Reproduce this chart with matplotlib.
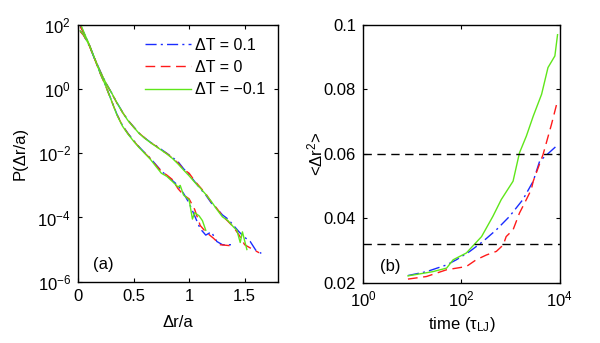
import numpy as np
import matplotlib
matplotlib.use('Agg')
from matplotlib import pyplot as plt
from matplotlib.ticker import NullLocator

plt.rcParams['font.family'] = ['Liberation Sans', 'DejaVu Sans']
plt.rcParams['mathtext.default'] = 'regular'
plt.rcParams['font.size'] = 12

# ---- panel (a): P(dr/a), log10 values, two branches per dT ----
xu_g = [0.02, 0.05, 0.10, 0.15, 0.20, 0.25, 0.30, 0.35, 0.40, 0.45, 0.50, 0.55, 0.60, 0.65, 0.70,
        0.75, 0.80, 0.85, 0.90, 0.95, 1.00, 1.05, 1.10, 1.15, 1.20, 1.25, 1.30, 1.35, 1.40, 1.43,
        1.46, 1.48, 1.52]
lu_g = [2.05, 1.80, 1.40, 0.95, 0.55, 0.20, -0.10, -0.42, -0.72, -0.98, -1.18, -1.38, -1.53, -1.66,
        -1.78, -1.90, -2.02, -2.16, -2.33, -2.52, -2.70, -2.90, -3.08, -3.28, -3.50, -3.75, -3.98,
        -4.10, -4.30, -4.40, -4.78, -4.45, -5.00]
xu_b = [0.02, 0.05, 0.10, 0.15, 0.20, 0.25, 0.30, 0.35, 0.40, 0.45, 0.50, 0.55, 0.60, 0.65, 0.70,
        0.75, 0.80, 0.85, 0.90, 0.95, 1.00, 1.05, 1.10, 1.15, 1.20, 1.25, 1.30, 1.35, 1.40, 1.45,
        1.50, 1.55, 1.60, 1.65]
lu_b = [2.00, 1.78, 1.40, 0.96, 0.56, 0.20, -0.10, -0.42, -0.71, -0.97, -1.17, -1.37, -1.52, -1.65,
        -1.76, -1.88, -2.00, -2.13, -2.26, -2.48, -2.66, -2.88, -3.10, -3.30, -3.55, -3.72, -3.92,
        -4.05, -4.25, -4.45, -4.62, -4.75, -5.02, -5.12]
xu_r = [0.02, 0.05, 0.10, 0.15, 0.20, 0.25, 0.30, 0.35, 0.40, 0.45, 0.50, 0.55, 0.60, 0.65, 0.70,
        0.75, 0.80, 0.85, 0.90, 0.95, 1.00, 1.05, 1.10, 1.15, 1.20, 1.25, 1.30, 1.35, 1.40, 1.45,
        1.50, 1.55, 1.63]
lu_r = [1.95, 1.76, 1.39, 0.95, 0.55, 0.19, -0.11, -0.43, -0.72, -0.97, -1.18, -1.37, -1.52, -1.66,
        -1.77, -1.90, -2.01, -2.15, -2.30, -2.50, -2.62, -2.86, -3.06, -3.26, -3.52, -3.72, -3.95,
        -4.12, -4.30, -4.55, -4.85, -4.95, -5.10]

xl_g = [0.02, 0.05, 0.10, 0.15, 0.20, 0.25, 0.30, 0.35, 0.40, 0.45, 0.50, 0.55, 0.60, 0.65, 0.70,
        0.75, 0.80, 0.85, 0.90, 0.92, 0.95, 1.00, 1.03, 1.05, 1.09, 1.12, 1.15]
ll_g = [1.82, 1.70, 1.38, 0.95, 0.50, 0.10, -0.35, -0.80, -1.15, -1.40, -1.62, -1.82, -2.00, -2.18,
        -2.40, -2.62, -2.72, -2.88, -3.05, -3.00, -3.30, -3.45, -4.05, -3.85, -3.95, -4.10, -4.40]
xl_b = [0.02, 0.05, 0.10, 0.15, 0.20, 0.25, 0.30, 0.35, 0.40, 0.45, 0.50, 0.55, 0.60, 0.65, 0.70,
        0.75, 0.80, 0.85, 0.90, 0.95, 1.00, 1.05, 1.10, 1.15, 1.20, 1.25, 1.30, 1.38]
ll_b = [1.82, 1.69, 1.37, 0.94, 0.50, 0.10, -0.34, -0.78, -1.13, -1.38, -1.60, -1.80, -1.98, -2.15,
        -2.35, -2.55, -2.70, -2.85, -3.00, -3.25, -3.55, -3.95, -4.35, -4.55, -4.45, -4.75, -4.85,
        -4.85]
xl_r = [0.02, 0.05, 0.10, 0.15, 0.20, 0.25, 0.30, 0.35, 0.40, 0.45, 0.50, 0.55, 0.60, 0.65, 0.70,
        0.75, 0.80, 0.85, 0.90, 0.95, 1.00, 1.05, 1.10, 1.15, 1.22, 1.28, 1.37]
ll_r = [1.80, 1.68, 1.37, 0.94, 0.49, 0.09, -0.35, -0.79, -1.14, -1.39, -1.61, -1.81, -1.99, -2.16,
        -2.37, -2.56, -2.68, -2.82, -3.10, -3.30, -3.42, -3.75, -4.25, -4.45, -4.65, -4.85, -4.88]

# ---- panel (b): <dr^2> vs time ----
t_g = [8.2, 26, 50, 68, 126, 257, 437, 646, 1122, 1514, 2089, 2884, 4266, 5754, 7943, 9000]
m_g = [0.0221, 0.0234, 0.0245, 0.0271, 0.0292, 0.0343, 0.0406, 0.0458, 0.0515, 0.0603, 0.0655,
       0.0717, 0.0785, 0.0868, 0.0904, 0.0970]
t_b = [8.2, 19.5, 50, 79, 148, 275, 513, 955, 1778, 2884, 3890, 8511, 9000]
m_b = [0.0222, 0.0234, 0.0255, 0.0271, 0.0297, 0.0328, 0.0364, 0.0406, 0.0458, 0.0515, 0.0577,
       0.0624, 0.0628]
t_r = [8.2, 19.5, 50, 126, 200, 324, 513, 708, 813, 1122, 1514, 2089, 2630, 2884, 4571, 6761, 9000]
m_r = [0.0211, 0.0219, 0.0240, 0.0250, 0.0271, 0.0286, 0.0297, 0.0317, 0.0343, 0.0364, 0.0416,
       0.0458, 0.0489, 0.0515, 0.0598, 0.0691, 0.0765]
h_lines = [0.06, 0.032]

c_b = '#1a2cff'
c_r = '#ff1a1a'
c_g = '#5fe61a'
dash_b = (0, (8, 3, 1.5, 3))
dash_r = (0, (7, 4))

fig = plt.figure(figsize=(6, 3.43), dpi=100)
ax1 = fig.add_axes([0.13, 0.179, 0.3333, 0.748])
ax2 = fig.add_axes([0.605, 0.176, 0.328, 0.751])

P = lambda v: np.power(10.0, np.array(v))
ax1.plot(xu_b, P(lu_b), color=c_b, linestyle=dash_b, lw=1, label='ΔT = 0.1')
ax1.plot(xu_r, P(lu_r), color=c_r, linestyle=dash_r, lw=1, label='ΔT = 0')
ax1.plot(xu_g, P(lu_g), color=c_g, lw=1, label='ΔT = −0.1')
ax1.plot(xl_b, P(ll_b), color=c_b, linestyle=dash_b, lw=1)
ax1.plot(xl_r, P(ll_r), color=c_r, linestyle=dash_r, lw=1)
ax1.plot(xl_g, P(ll_g), color=c_g, lw=1)
ax1.set_yscale('log')
ax1.set_xlim(0, 1.8)
ax1.set_ylim(1e-6, 1e2)
ax1.set_xticks([0, 0.5, 1, 1.5])
ax1.set_xticklabels(['0', '0.5', '1', '1.5'])
ax1.set_yticks([1e-6, 1e-4, 1e-2, 1, 1e2])
ax1.yaxis.set_minor_locator(NullLocator())
ax1.set_xlabel('Δr/a')
ax1.set_ylabel('P(Δr/a)')
ax1.xaxis.set_label_coords(0.5, -0.13)
ax1.yaxis.set_label_coords(-0.25, 0.5)
ax1.text(0.075, 0.065, '(a)', transform=ax1.transAxes, va='center')
ax1.legend(loc='upper right', frameon=False, handlelength=2.9, handletextpad=0.25,
           labelspacing=0.45, borderaxespad=0.4, fontsize=11.5)

ax2.plot(t_b, m_b, color=c_b, linestyle=dash_b, lw=1)
ax2.plot(t_r, m_r, color=c_r, linestyle=dash_r, lw=1)
ax2.plot(t_g, m_g, color=c_g, lw=1)
for h in h_lines:
    ax2.axhline(h, color='k', linestyle=(0, (6, 4)), lw=1)
ax2.set_xscale('log')
ax2.set_xlim(1, 1e4)
ax2.set_ylim(0.02, 0.1)
ax2.set_xticks([1, 1e2, 1e4])
ax2.xaxis.set_minor_locator(NullLocator())
ax2.set_yticks([0.02, 0.04, 0.06, 0.08, 0.1])
ax2.set_yticklabels(['0.02', '0.04', '0.06', '0.08', '0.1'])
ax2.set_xlabel('time (τ$_{LJ}$)')
ax2.set_ylabel('<Δr$^2$>')
ax2.xaxis.set_label_coords(0.5, -0.126)
ax2.yaxis.set_label_coords(-0.193, 0.5)
ax2.text(0.086, 0.062, '(b)', transform=ax2.transAxes, va='center')

for ax in (ax1, ax2):
    ax.tick_params(which='both', direction='in', top=True, right=True, length=3, pad=5)
    for s in ax.spines.values():
        s.set_linewidth(1)

fig.savefig('out.png', dpi=100)
